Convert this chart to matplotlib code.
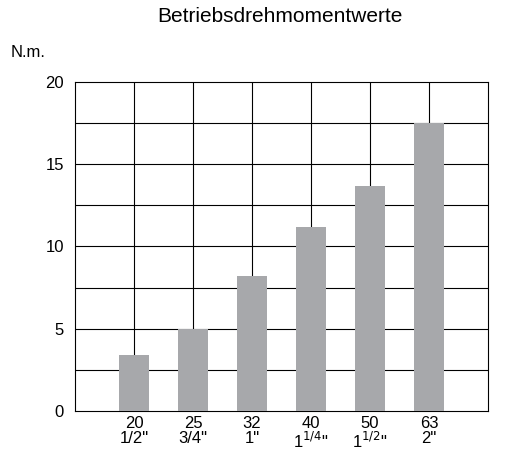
import matplotlib
matplotlib.use("Agg")
import matplotlib.pyplot as plt
plt.rcParams['font.family'] = ['Liberation Sans', 'DejaVu Sans']

sizes = ["20", "25", "32", "40", "50", "63"]
inches = ["1/2\"", "3/4\"", "1\"", "1$^{1/4}$\"", "1$^{1/2}$\"", "2\""]
values = [3.4, 5.0, 8.2, 11.2, 13.7, 17.5]

fig = plt.figure(figsize=(5.19, 4.68), dpi=100)
ax = fig.add_axes([0.1445, 0.1218, 0.7955, 0.7030])
pos = list(range(1, len(values) + 1))
ax.bar(pos, values, width=0.5, color="#a7a8ab", zorder=3)
ax.set_xlim(0, 7)
ax.set_ylim(0, 20)
for x in range(1, 7):
    ax.axvline(x, color="black", linewidth=0.8, zorder=0)
for i in range(1, 8):
    ax.axhline(i * 2.5, color="black", linewidth=0.8, zorder=0)
ax.set_yticks([0, 5, 10, 15, 20])
ax.set_xticks(pos)
ax.set_xticklabels([f"{s}\n{i}" for s, i in zip(sizes, inches)], fontsize=12, linespacing=1.0)
ax.tick_params(axis="both", which="both", length=0, labelsize=12)
ax.tick_params(axis="y", pad=8)
for sp in ax.spines.values():
    sp.set_linewidth(0.8)
fig.text(0.54, 0.965, "Betriebsdrehmomentwerte", ha="center", va="center", fontsize=15)
fig.text(0.02, 0.888, "N.m.", ha="left", va="center", fontsize=12)
fig.savefig("out.png", dpi=100)
